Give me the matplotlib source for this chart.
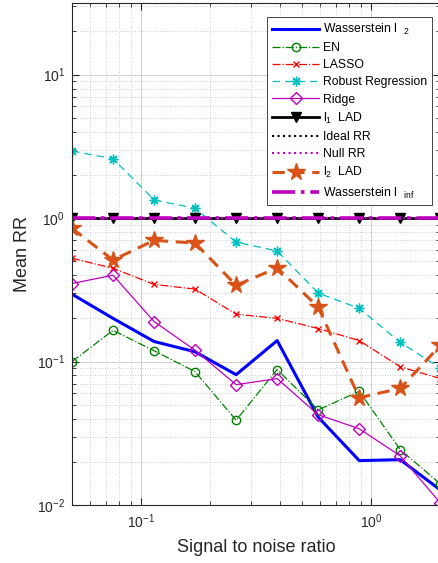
import numpy as np
import matplotlib.pyplot as plt

plt.rcParams['font.family'] = ['Liberation Sans', 'DejaVu Sans']
plt.rcParams['mathtext.fontset'] = 'custom'
plt.rcParams['mathtext.rm'] = 'Liberation Sans'
plt.rcParams['mathtext.it'] = 'Liberation Sans'

snr = [0.05, 0.0754, 0.1137, 0.1714, 0.2585, 0.3898, 0.5878, 0.8863, 1.3365, 2.0]

wass_l2 = [0.295, 0.20, 0.138, 0.117, 0.081, 0.14, 0.041, 0.0204, 0.0207, 0.0127]
en = [0.10, 0.165, 0.119, 0.085, 0.039, 0.088, 0.046, 0.062, 0.0243, 0.014]
lasso = [0.525, 0.447, 0.345, 0.32, 0.214, 0.20, 0.17, 0.14, 0.092, 0.076]
robust = [2.94, 2.59, 1.34, 1.17, 0.68, 0.59, 0.30, 0.235, 0.136, 0.09]
ridge = [0.35, 0.40, 0.19, 0.12, 0.069, 0.076, 0.0426, 0.034, 0.022, 0.0103]
l1_lad = [1.0] * 10
ideal_rr = [1.0] * 10
null_rr = [1.0] * 10
l2_lad = [0.85, 0.51, 0.70, 0.67, 0.34, 0.45, 0.24, 0.056, 0.065, 0.13]
wass_inf = [1.0] * 10

orange = (0.85, 0.325, 0.098)
purple = (0.75, 0, 0.75)

fig = plt.figure(figsize=(4.39, 5.63), dpi=100)
ax = fig.add_axes([72/439, 58/563, 368.5/439, 502/563])

ax.plot(snr, wass_l2, color='b', lw=2.2, label='Wasserstein l  $_{2}$')
ax.plot(snr, en, color=(0, 0.5, 0), lw=0.9, ls='-.', marker='o', mfc='none', ms=6, label='EN')
ax.plot(snr, lasso, color='r', lw=0.9, ls='-.', marker='x', ms=5, label='LASSO')
ax.plot(snr, robust, color='c', lw=0.9, ls='--', dashes=(6, 4), marker=(8, 2, 0), ms=7, label='Robust Regression')
ax.plot(snr, ridge, color='m', lw=0.9, marker='D', mfc='none', ms=6, label='Ridge')
ax.plot(snr, l1_lad, color='k', lw=2, marker='v', ms=7, label='l$_1$  LAD')
ax.plot(snr, ideal_rr, color='k', lw=1.5, ls=':', label='Ideal RR')
ax.plot(snr, null_rr, color='m', lw=1.5, ls=':', label='Null RR')
ax.plot(snr, l2_lad, color=orange, lw=2.2, ls='--', dashes=(4, 2.5), marker='*', ms=13, label='l$_2$  LAD')
ax.plot(snr, wass_inf, color=purple, lw=2.6, ls='-.', label='Wasserstein l  $_{inf}$')

ax.set_xscale('log')
ax.set_yscale('log')
ax.set_xlim(0.05, 2.0)
ax.set_ylim(0.01, 31.6)

ax.grid(True, which='major', color='0.82', lw=0.7, ls='-')
ax.grid(True, which='minor', color='0.75', lw=0.6, ls=(0, (1, 2)))
ax.set_axisbelow(True)

ax.tick_params(which='both', direction='in', top=True, right=True, colors='0.15', labelsize=10)
ax.tick_params(which='major', length=5, pad=5)
ax.tick_params(which='minor', length=3)
for s in ax.spines.values():
    s.set_color('0.15')
    s.set_linewidth(0.8)

ax.set_xlabel('Signal to noise ratio', fontsize=13, color='0.15', labelpad=6)
ax.set_ylabel('Mean RR', fontsize=13, color='0.15')

leg = ax.legend(loc='upper right', bbox_to_anchor=(0.977, 0.972), borderaxespad=0,
                fontsize=8.8, handlelength=3.9, labelspacing=0.42, fancybox=False,
                framealpha=1, edgecolor='0.15', borderpad=0.4, handletextpad=0.3)
leg.get_frame().set_linewidth(0.6)

fig.savefig('out.png', dpi=100)
